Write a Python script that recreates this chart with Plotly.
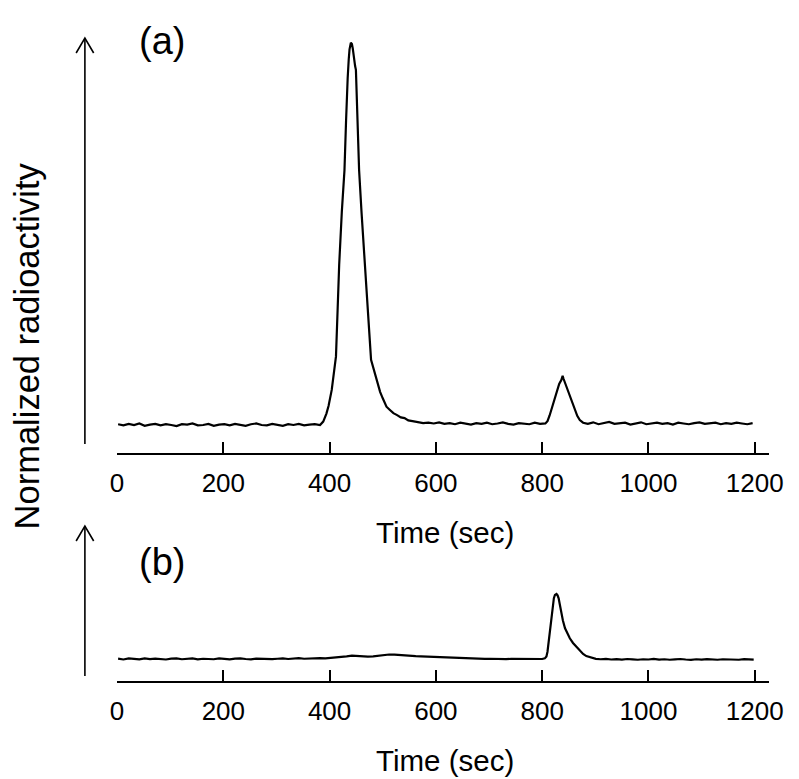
import plotly.graph_objects as go

# ---------------- data ----------------
tick_vals = [0, 200, 400, 600, 800, 1000, 1200]
tick_text = ["0", "200", "400", "600", "800", "1000", "1200"]

# panel (a)
time_a = [2, 12, 22, 32, 42, 52, 62, 72, 82, 92, 102, 112, 122, 132, 142, 152, 162, 172, 182, 192,
          202, 212, 222, 232, 242, 252, 262, 272, 282, 292, 302, 312, 322, 332, 342, 352, 362, 372, 382,
          388, 394, 398, 404, 409, 412, 415, 418, 423, 428, 431, 433, 434, 436, 437.5, 440, 442, 443.5,
          446, 448, 449.5, 452, 455.5, 460, 467, 472, 478, 482, 486, 490, 495, 500, 507, 513, 520, 527,
          534, 541, 548, 556, 566, 576, 586, 596, 606, 616, 626, 636, 646, 656, 666, 676, 686, 696, 706,
          716, 726, 736, 746, 756, 766, 776, 786, 796, 806, 810, 814, 819, 824, 828, 832, 836, 838.5,
          840, 843.4, 848, 852.5, 857, 861.7, 866, 870.8, 877, 886, 896, 906, 916, 926, 936, 946, 956,
          966, 976, 986, 996, 1006, 1016, 1026, 1036, 1046, 1056, 1066, 1076, 1086, 1096, 1106, 1116,
          1126, 1136, 1146, 1156, 1166, 1176, 1186, 1196]
rad_a = [0.002, -0.001, 0.003, 0.000, 0.004, -0.002, 0.001, 0.003, -0.001, 0.002, 0.000, -0.003,
         0.002, 0.001, 0.004, -0.001, 0.000, 0.003, -0.002, 0.001, 0.002, -0.001, 0.003, 0.000, -0.002,
         0.002, 0.004, 0.000, -0.001, 0.003, 0.001, -0.002, 0.002, 0.000, 0.003, -0.001, 0.001, 0.002,
         0.000,
         0.009, 0.030, 0.050, 0.092, 0.144, 0.180, 0.300, 0.420, 0.560, 0.669, 0.800, 0.897, 0.910,
         0.960, 0.986, 1.003, 1.000, 0.989, 0.955, 0.942, 0.932, 0.800, 0.669, 0.560, 0.420, 0.300,
         0.171, 0.150, 0.127, 0.110, 0.087, 0.070, 0.048, 0.040, 0.031, 0.026, 0.020, 0.018, 0.012,
         0.010, 0.008, 0.005, 0.006, 0.004, 0.007, 0.003, 0.005, 0.002, 0.006, 0.004, 0.001, 0.005,
         0.003, 0.006, 0.002, 0.004, 0.007, 0.003, 0.001, 0.005, 0.004, 0.002, 0.006, 0.003,
         0.004, 0.010, 0.025, 0.048, 0.075, 0.096, 0.108, 0.118, 0.129, 0.122, 0.109, 0.095, 0.079,
         0.060, 0.039, 0.024, 0.013, 0.006,
         0.003, 0.007, 0.002, 0.005, 0.008, 0.003, 0.004, 0.006, 0.001, 0.005, 0.007, 0.002, 0.004,
         0.006, 0.003, 0.005, 0.001, 0.006, 0.004, 0.002, 0.005, 0.007, 0.003, 0.004, 0.006, 0.002,
         0.005, 0.003, 0.006, 0.004, 0.002, 0.005]

# panel (b)
time_b = [2, 12, 22, 32, 42, 52, 62, 72, 82, 92, 102, 112, 122, 132, 142, 152, 162, 172, 182, 192,
          202, 212, 222, 232, 242, 252, 262, 272, 282, 292, 302, 312, 322, 332, 342, 352, 362, 372, 382,
          392, 402, 412, 422, 432, 442, 452, 462, 472, 482, 492, 502, 512, 522, 532, 542, 552, 562, 572,
          582, 592, 602, 612, 622, 632, 642, 652, 662, 672, 682, 692, 702, 712, 722, 732, 742, 752, 762,
          772, 782, 792, 800, 805, 808, 810, 813, 816, 818, 820, 822, 824, 827, 829, 831, 833, 836, 839,
          843, 847, 852, 858, 865, 871, 877, 883, 889, 895, 901, 910, 920, 930, 940, 950, 960, 970, 980,
          990, 1000, 1010, 1020, 1030, 1040, 1050, 1060, 1070, 1080, 1090, 1100, 1110, 1120, 1130, 1140,
          1150, 1160, 1170, 1180, 1190, 1198]
rad_b = [0.005, -0.008, 0.010, 0.000, -0.005, 0.008, -0.003, 0.006, 0.000, -0.008, 0.005, 0.010,
         -0.004, 0.002, 0.008, -0.006, 0.004, 0.000, -0.004, 0.008, 0.003, -0.006, 0.005, 0.010, 0.000,
         -0.005, 0.006, 0.002, 0.008, -0.003, 0.004, 0.010, 0.000, 0.006, 0.012, 0.004, 0.010, 0.008,
         0.014, 0.010, 0.016, 0.020, 0.030, 0.042, 0.052, 0.046, 0.040, 0.036, 0.042, 0.055, 0.062,
         0.070, 0.068, 0.060, 0.055, 0.048, 0.044, 0.040, 0.036, 0.032, 0.030, 0.026, 0.020, 0.018,
         0.012, 0.010, 0.008, 0.004, 0.006, 0.002, 0.004, 0.000, 0.003, -0.002, 0.002, 0.000, 0.004,
         -0.002, 0.002, 0.000,
         0.000, 0.010, 0.040, 0.114, 0.330, 0.558, 0.720, 0.870, 0.950, 1.000, 1.016, 0.995, 0.948,
         0.860, 0.714, 0.600, 0.480, 0.410, 0.323, 0.250, 0.192, 0.130, 0.078, 0.045, 0.027, 0.012,
         0.003, -0.004, 0.002, -0.008, -0.002, -0.010, 0.000, -0.006, -0.012, -0.004, -0.008, 0.000,
         -0.010, -0.004, -0.012, -0.006, 0.000, -0.008, -0.014, -0.004, -0.010, -0.002, -0.008, -0.012,
         -0.004, -0.010, -0.006, -0.012, -0.002, -0.008, -0.010]

x_title = "Time (sec)"
y_title = "Normalized radioactivity"
panel_labels = ["(a)", "(b)"]

# ---------------- layout helpers ----------------
W, H = 799, 779
FONT = "Liberation Sans, Arial, Helvetica, sans-serif"


def px(x):
    return x / W


def py(y):
    return 1 - y / H


fig = go.Figure()
fig.add_trace(go.Scatter(x=time_a, y=rad_a, mode="lines", line=dict(color="black", width=2.2),
                         xaxis="x", yaxis="y", showlegend=False, hoverinfo="skip"))
fig.add_trace(go.Scatter(x=time_b, y=rad_b, mode="lines", line=dict(color="black", width=2.2),
                         xaxis="x2", yaxis="y2", showlegend=False, hoverinfo="skip"))

xax = dict(range=[0, 1227.6], showline=True, linecolor="black", linewidth=1.5,
           ticks="inside", ticklen=11, tickwidth=1.5, tickcolor="black",
           tickvals=tick_vals, ticktext=tick_text, tickfont=dict(size=26, color="black", family=FONT),
           ticklabelstandoff=6, showgrid=False, zeroline=False, fixedrange=True)

fig.update_layout(
    width=W, height=H, margin=dict(l=0, r=0, t=0, b=0),
    paper_bgcolor="white", plot_bgcolor="white",
    font=dict(family=FONT, color="black"),
    xaxis=dict(domain=[px(113), px(783)], anchor="y", **xax),
    yaxis=dict(domain=[py(453), py(30)], range=[-0.0735, 1.0367], visible=False),
    xaxis2=dict(domain=[px(113), px(783)], anchor="y2", **xax),
    yaxis2=dict(domain=[py(681), py(540)], range=[-0.344, 1.859], visible=False),
)

# axis arrows (y-axes drawn as arrows)
arrows = [(38, 444), (526, 676)]
shapes = []
for tip, bottom in arrows:
    shapes.append(dict(type="line", xref="paper", yref="paper", x0=px(80), x1=px(80),
                       y0=py(bottom), y1=py(tip), line=dict(color="black", width=1.6)))
    shapes.append(dict(type="path", xref="paper", yref="paper",
                       path=f"M {px(71)},{py(tip + 15)} L {px(80)},{py(tip)} L {px(89)},{py(tip + 15)}",
                       line=dict(color="black", width=1.6)))
fig.update_layout(shapes=shapes)

annotations = [
    dict(text=panel_labels[0], x=px(159), y=py(41), xref="paper", yref="paper", showarrow=False,
         xanchor="center", yanchor="middle", font=dict(size=38, family=FONT)),
    dict(text=panel_labels[1], x=px(159), y=py(562), xref="paper", yref="paper", showarrow=False,
         xanchor="center", yanchor="middle", font=dict(size=38, family=FONT)),
    dict(text=x_title, x=px(450), y=py(532), xref="paper", yref="paper", showarrow=False,
         xanchor="center", yanchor="middle", font=dict(size=29.5, family=FONT)),
    dict(text=x_title, x=px(450), y=py(760), xref="paper", yref="paper", showarrow=False,
         xanchor="center", yanchor="middle", font=dict(size=29.5, family=FONT)),
    dict(text=y_title, x=px(21), y=py(346), xref="paper", yref="paper", showarrow=False,
         xanchor="center", yanchor="middle", textangle=-90, font=dict(size=34.5, family=FONT)),
]
fig.update_layout(annotations=annotations)

fig.write_html("out.html", config={"displayModeBar": False},
               post_script="document.body.style.margin='0px';document.body.style.overflow='hidden';")
